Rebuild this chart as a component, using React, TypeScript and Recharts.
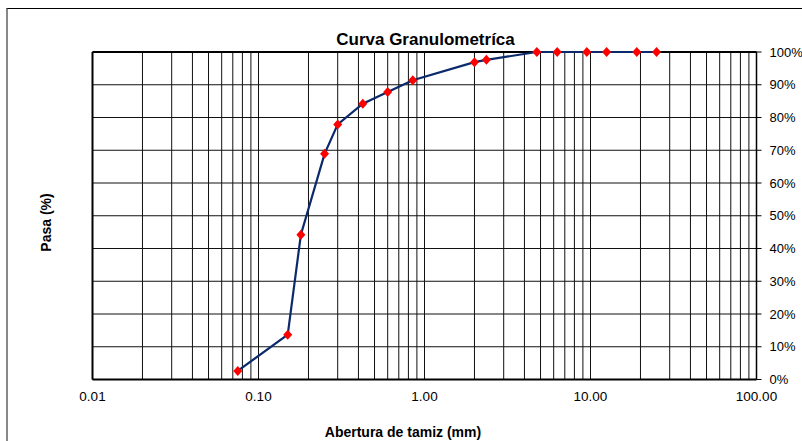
import React from "react";
import { LineChart, Line, XAxis, YAxis, CartesianGrid, ReferenceLine } from "recharts";

const sieveSizes = [0.075, 0.15, 0.18, 0.25, 0.3, 0.425, 0.6, 0.85, 2.0, 2.36, 4.75, 6.3, 9.5, 12.5, 19, 25];
const passing = [2.6, 13.7, 44.2, 68.9, 77.9, 84.2, 87.8, 91.4, 96.9, 97.6, 100, 100, 100, 100, 100, 100];
const xTicks = [0.01, 0.1, 1, 10, 100];
const yTicks = [0, 10, 20, 30, 40, 50, 60, 70, 80, 90, 100];
const xGrid = [
  0.02, 0.03, 0.04, 0.05, 0.06, 0.07, 0.08, 0.09, 0.1,
  0.2, 0.3, 0.4, 0.5, 0.6, 0.7, 0.8, 0.9, 1,
  2, 3, 4, 5, 6, 7, 8, 9, 10,
  20, 30, 40, 50, 60, 70, 80, 90,
];

const data = sieveSizes.map((s, i) => ({ size: s, pasa: passing[i] }));

const FONT = "'Liberation Sans', Arial, sans-serif";

const Diamond = (props: any) => {
  const { cx, cy, index } = props;
  if (cx == null || cy == null) return null;
  const w = 4.5;
  const h = 5;
  return (
    <path
      key={`d-${index}`}
      d={`M${cx},${cy - h}L${cx + w},${cy}L${cx},${cy + h}L${cx - w},${cy}Z`}
      fill="#ff0000"
      stroke="none"
    />
  );
};

export default function App() {
  return (
    <div style={{ position: "absolute", left: 0, top: 0, width: 802, height: 441, overflow: "hidden", background: "#fff" }}>
      <div
        style={{
          position: "absolute",
          left: 6,
          top: 8,
          width: 900,
          height: 500,
          borderTop: "1px solid #000",
          borderLeft: "2px solid #888",
        }}
      />
      <div style={{ position: "absolute", left: 0, top: 0 }}>
        <LineChart width={802} height={441} data={data} margin={{ top: 52, right: 0.5, bottom: 31.5, left: 92.5 }}>
          <CartesianGrid vertical={false} stroke="#111" strokeWidth={1} strokeOpacity={1} />
          {xGrid.map((v) => (
            <ReferenceLine key={`g${v}`} x={v} stroke="#111" strokeWidth={1} />
          ))}
          <ReferenceLine x={0.01} stroke="#000" strokeWidth={2} />
          <ReferenceLine y={100} stroke="#000" strokeWidth={2} />
          <XAxis
            dataKey="size"
            type="number"
            scale="log"
            domain={[0.01, 100]}
            ticks={xTicks}
            allowDataOverflow
            tickFormatter={(v: number) => v.toFixed(2)}
            tickLine={false}
            tickSize={0}
            tickMargin={12}
            height={30}
            axisLine={{ stroke: "#000", strokeWidth: 2 }}
            tick={{ fill: "#000", fontSize: 13.5, fontFamily: FONT }}
            interval={0}
          />
          <YAxis
            orientation="right"
            type="number"
            domain={[0, 100]}
            ticks={yTicks}
            width={45}
            tickFormatter={(v: number) => `${v}%`}
            tickSize={5}
            tickMargin={8}
            tickLine={{ stroke: "#000" }}
            axisLine={{ stroke: "#000", strokeWidth: 1.5 }}
            tick={{ fill: "#000", fontSize: 13, fontFamily: FONT, textAnchor: "start" }}
            interval={0}
          />
          <Line
            type="linear"
            dataKey="pasa"
            stroke="#0a2a6b"
            strokeWidth={2.2}
            dot={Diamond}
            activeDot={false}
            isAnimationActive={false}
          />
        </LineChart>
      </div>
      <svg width={802} height={441} style={{ position: "absolute", left: 0, top: 0, pointerEvents: "none" }}>
        <text x={425.5} y={45} textAnchor="middle" fontFamily={FONT} fontWeight="bold" fontSize={17} fill="#000">
          Curva Granulometríca
        </text>
        <text x={403} y={436.5} textAnchor="middle" fontFamily={FONT} fontWeight="bold" fontSize={14} fill="#000">
          Abertura de tamiz (mm)
        </text>
        <text
          transform="translate(51,222.5) rotate(-90)"
          x={0}
          y={0}
          textAnchor="middle"
          fontFamily={FONT}
          fontWeight="bold"
          fontSize={14}
          fill="#000"
        >
          Pasa (%)
        </text>
      </svg>
    </div>
  );
}
